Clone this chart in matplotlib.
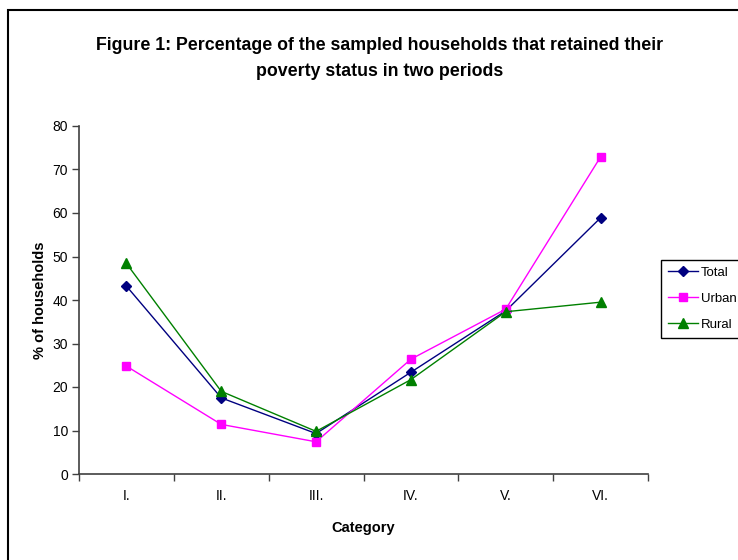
import numpy as np
from matplotlib import pyplot as plt
from matplotlib.patches import Rectangle

plt.rcParams["font.family"] = ["Liberation Sans", "DejaVu Sans"]

categories = ["I.", "II.", "III.", "IV.", "V.", "VI."]
total = [43.2, 17.5, 9.3, 23.4, 37.5, 58.9]
urban = [24.8, 11.4, 7.4, 26.4, 37.9, 72.9]
rural = [48.4, 19.0, 9.8, 21.7, 37.3, 39.5]

series = [
    ("Total", total, "#000080", "D", 5),
    ("Urban", urban, "#FF00FF", "s", 6),
    ("Rural", rural, "#008000", "^", 7),
]

W, H = 738, 560
fig = plt.figure(figsize=(W / 100, H / 100), dpi=100)

# outer frame of the original chart object (right/bottom cut off)
fig.patches.append(
    Rectangle((8 / W, -0.1), 1.1, 1 - 10 / H + 0.1, transform=fig.transFigure,
              fill=False, edgecolor="black", linewidth=1.5)
)

ax = fig.add_axes([79 / W, 1 - 474 / H, (648 - 79) / W, (474 - 126) / H])

x = np.arange(len(categories))
for name, vals, col, mk, ms in series:
    ax.plot(x, vals, color=col, marker=mk, markersize=ms, linewidth=1, label=name)

ax.set_xlim(-0.5, len(categories) - 0.5)
ax.set_ylim(0, 80)
ax.set_yticks(np.arange(0, 81, 10))
ax.set_xticks(x)
ax.set_xticklabels(categories)
ax.set_xticks(np.arange(-0.5, len(categories)), minor=True)
ax.tick_params(axis="x", which="major", length=0, pad=11, labelsize=10)
ax.tick_params(axis="x", which="minor", length=5, width=1, color="#404040", direction="out")
ax.tick_params(axis="y", length=5, width=1, color="#404040", labelsize=10, pad=3)

for side in ["top", "right"]:
    ax.spines[side].set_visible(False)
for side in ["left", "bottom"]:
    ax.spines[side].set_color("#404040")
    ax.spines[side].set_linewidth(1.2)

ax.set_xlabel("Category", fontweight="bold", fontsize=10.5, labelpad=13)
ax.set_ylabel("% of households", fontweight="bold", fontsize=10.5, labelpad=4)

fig.text(380 / W, 1 - 46 / H, "Figure 1: Percentage of the sampled households that retained their",
         ha="center", va="center", fontsize=12.8, fontweight="bold")
fig.text(380 / W, 1 - 72 / H, "poverty status in two periods",
         ha="center", va="center", fontsize=12.8, fontweight="bold")

leg = fig.legend(loc="upper left", bbox_to_anchor=(661 / W, 1 - 260 / H), fontsize=9.5,
                 fancybox=False, edgecolor="black", framealpha=1, handlelength=2.3,
                 borderpad=0.5, labelspacing=1.05, handletextpad=0.2, borderaxespad=0)
leg.get_frame().set_linewidth(1)

fig.savefig("out.png", dpi=100)
